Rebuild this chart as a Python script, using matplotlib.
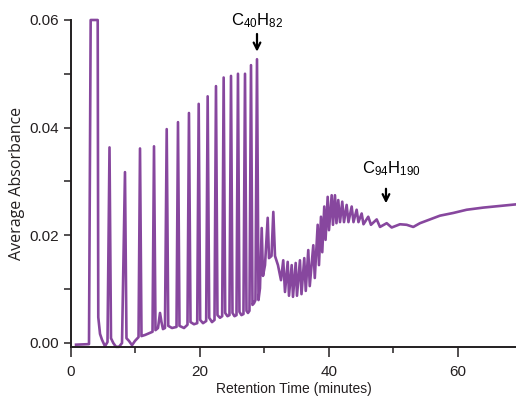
import matplotlib
matplotlib.use("Agg")
import matplotlib.pyplot as plt
from matplotlib import font_manager
from matplotlib.ticker import MultipleLocator

# retention time (min) and average absorbance
trace_time = [0.78, 2.79, 3.05, 4.14, 4.23, 4.50, 4.81, 5.27, 5.66, 5.97, 6.20, 6.56, 6.98, 7.44, 7.91,
              8.37, 8.60, 8.99, 9.46, 9.92, 10.47, 10.70, 10.93, 11.47, 12.25, 12.64, 12.87, 13.10,
              13.49, 13.80, 14.03, 14.26, 14.57, 14.84, 15.08, 15.66, 16.36, 16.59, 16.82, 17.52,
              18.06, 18.29, 18.53, 19.07, 19.57, 19.80, 20.03, 20.47, 20.96, 21.19, 21.43, 21.86,
              22.25, 22.48, 22.71, 23.10, 23.44, 23.67, 23.91, 24.26, 24.57, 24.81, 25.04, 25.35,
              25.66, 25.89, 26.12, 26.43, 26.74, 26.98, 27.21, 27.44, 27.67, 27.91, 28.14, 28.37,
              28.60, 28.84, 29.07, 29.30, 29.57, 29.77, 30.08, 30.50, 30.70, 31.09, 31.37, 31.63,
              32.09, 32.56, 32.91, 33.18, 33.60, 33.80, 34.22, 34.42, 34.84, 35.04, 35.50, 35.74,
              36.17, 36.40, 36.79, 37.02, 37.57, 37.80, 38.25, 38.45, 38.76, 38.96, 39.27, 39.47,
              39.80, 40.00, 40.42, 40.62, 40.93, 41.16, 41.44, 41.71, 42.06, 42.33, 42.74, 43.02,
              43.52, 43.80, 44.29, 44.57, 45.07, 45.35, 46.09, 46.51, 47.40, 47.91, 48.95, 49.72,
              51.01, 52.05, 53.07, 54.11, 55.66, 57.21, 59.27, 61.35, 63.92, 66.51, 68.99]
trace_abs = [-0.0004, -0.0003, 0.0600, 0.0600, 0.0047, 0.0016, 0.0005, -0.0007, 0.0001, 0.0363,
             0.0008, -0.0001, -0.0008, -0.0008, -0.0001, 0.0317, 0.0008, 0.0003, -0.0005, 0.0003,
             0.0010, 0.0361, 0.0012, 0.0014, 0.0018, 0.0020, 0.0365, 0.0023, 0.0027, 0.0055,
             0.0038, 0.0025, 0.0027, 0.0397, 0.0031, 0.0027, 0.0029, 0.0410, 0.0031, 0.0027,
             0.0033, 0.0427, 0.0038, 0.0034, 0.0036, 0.0444, 0.0042, 0.0036, 0.0040, 0.0458,
             0.0046, 0.0038, 0.0042, 0.0477, 0.0051, 0.0046, 0.0049, 0.0493, 0.0055, 0.0049,
             0.0051, 0.0496, 0.0055, 0.0049, 0.0051, 0.0500, 0.0057, 0.0051, 0.0053, 0.0500,
             0.0059, 0.0055, 0.0059, 0.0516, 0.0070, 0.0073, 0.0079, 0.0527, 0.0079, 0.0101,
             0.0213, 0.0124, 0.0144, 0.0232, 0.0157, 0.0161, 0.0243, 0.0161, 0.0144, 0.0116,
             0.0153, 0.0094, 0.0150, 0.0087, 0.0144, 0.0085, 0.0148, 0.0087, 0.0153, 0.0090,
             0.0157, 0.0096, 0.0172, 0.0105, 0.0181, 0.0120, 0.0219, 0.0144, 0.0234, 0.0168,
             0.0253, 0.0191, 0.0271, 0.0209, 0.0274, 0.0219, 0.0274, 0.0222, 0.0265, 0.0224,
             0.0262, 0.0224, 0.0256, 0.0224, 0.0253, 0.0224, 0.0247, 0.0224, 0.0240, 0.0220,
             0.0234, 0.0219, 0.0229, 0.0215, 0.0222, 0.0214, 0.0220, 0.0219, 0.0215, 0.0222,
             0.0229, 0.0236, 0.0241, 0.0247, 0.0251, 0.0254, 0.0257]

# labelled alkanes: text position and arrow (x, top, tip)
labels = [r"$\mathrm{C_{40}H_{82}}$", r"$\mathrm{C_{94}H_{190}}$"]
label_x = [28.9, 49.7]
label_y = [0.0591, 0.0315]
arrow_x = [28.84, 48.84]
arrow_top = [0.0574, 0.0286]
arrow_tip = [0.0541, 0.0259]

installed = {f.name for f in font_manager.fontManager.ttflist}
narrow = "Liberation Sans Narrow" if "Liberation Sans Narrow" in installed else "Liberation Sans"
plt.rcParams["font.family"] = [narrow, "DejaVu Sans"]
plt.rcParams["mathtext.fontset"] = "custom"
plt.rcParams["mathtext.rm"] = narrow

ink = "#231f20"
purple = "#87479e"

fig = plt.figure(figsize=(5.16, 4.04), dpi=100)
ax = fig.add_axes([0.1376, 0.1418, 1 - 0.1376, 0.8087])

ax.plot(trace_time, trace_abs, color=purple, lw=1.9, clip_on=False)

for lab, tx, ty, xa, a0, a1 in zip(labels, label_x, label_y, arrow_x, arrow_top, arrow_tip):
    ax.text(tx, ty, lab, ha="center", va="baseline", fontsize=12, color="black")
    ax.annotate("", xy=(xa, a1), xytext=(xa, a0),
                arrowprops=dict(arrowstyle="->", lw=1.6, color="black", mutation_scale=12,
                                shrinkA=0, shrinkB=0))

ax.set_xlim(0, 69)
ax.set_ylim(-0.00078, 0.06)
ax.xaxis.set_major_locator(MultipleLocator(20))
ax.xaxis.set_minor_locator(MultipleLocator(10))
ax.yaxis.set_major_locator(MultipleLocator(0.02))
ax.yaxis.set_minor_locator(MultipleLocator(0.01))
ax.yaxis.set_major_formatter(lambda v, p: f"{v:.2f}")

for side in ["top", "right"]:
    ax.spines[side].set_visible(False)
for side in ["left", "bottom"]:
    ax.spines[side].set_linewidth(1.4)
    ax.spines[side].set_color(ink)

ax.tick_params(axis="both", which="both", direction="out", width=1.1, color=ink,
               labelcolor=ink, labelsize=11)
ax.tick_params(axis="x", which="major", length=7, pad=6)
ax.tick_params(axis="x", which="minor", length=4.5)
ax.tick_params(axis="y", which="both", length=5, pad=4)

ax.set_xlabel("Retention Time (minutes)", fontsize=10, color=ink)
ax.set_ylabel("Average Absorbance", fontsize=11.5, color=ink, family=["Open Sans", "DejaVu Sans"])
ax.xaxis.set_label_coords(0.5, -0.108)
ax.yaxis.set_label_coords(-0.103, 0.5)

fig.savefig("out.png", dpi=100)
